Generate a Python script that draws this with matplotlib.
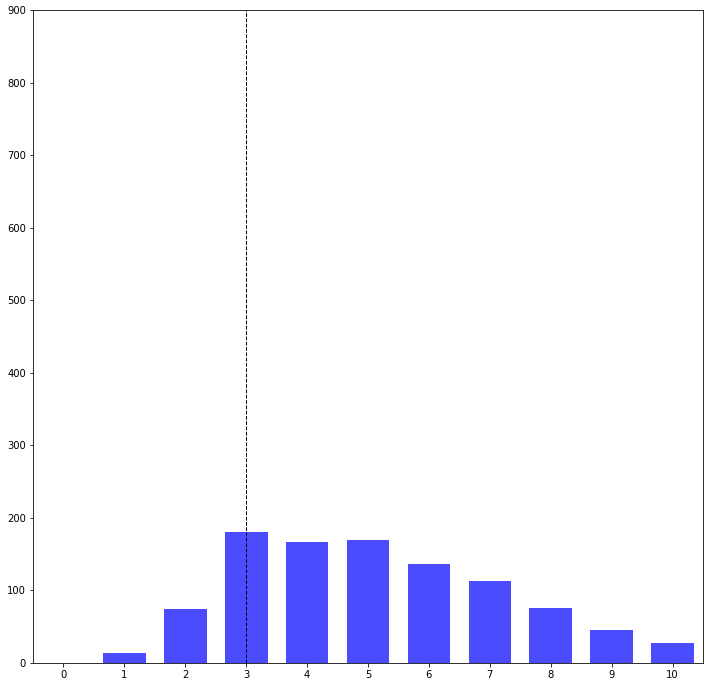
import numpy as np
import matplotlib.pyplot as plt

values = np.arange(0, 11)
counts = [0, 14, 75, 181, 167, 170, 136, 113, 76, 46, 28]
marker_x = 3

fig = plt.figure(figsize=(709 / 72, 687 / 72), dpi=72)
ax = fig.add_axes([33 / 709, 24 / 687, 670 / 709, 653 / 687])
ax.bar(values, counts, width=0.7, color='blue', alpha=0.7)
ax.axvline(marker_x, color='black', linestyle='--', linewidth=1)
ax.set_xlim(-0.5, 10.5)
ax.set_ylim(0, 900)
ax.set_xticks(values)
fig.savefig('out.png', dpi=72)
